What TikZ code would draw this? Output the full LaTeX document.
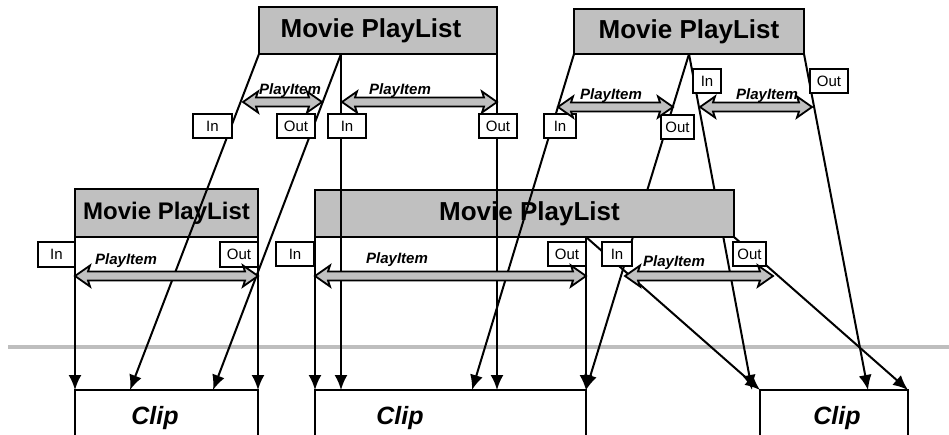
\documentclass[tikz,border=0pt]{standalone}
\usepackage{fontspec}
\setmainfont{Liberation Sans}
\usetikzlibrary{arrows.meta}
\definecolor{boxgray}{RGB}{192,192,192}
\definecolor{rulegray}{RGB}{190,190,190}
\tikzset{
  movie/.style={draw, fill=boxgray, line width=1.8pt, inner sep=0pt, outer sep=0pt,
    font=\fontsize{26}{30}\selectfont\bfseries},
  inout/.style={draw, fill=white, line width=1.4pt, inner sep=0pt, outer sep=0pt,
    minimum width=38pt, minimum height=24pt, font=\fontsize{15}{18}\selectfont},
  clipbox/.style={draw, line width=1.8pt, inner sep=0pt, outer sep=0pt, minimum height=48pt},
  itemtxt/.style={anchor=base, inner sep=0pt, font=\fontsize{15}{18}\selectfont\bfseries\itshape},
  cliptxt/.style={anchor=base, inner sep=0pt, font=\fontsize{25}{30}\selectfont\bfseries\itshape},
  link/.style={line width=2pt, -{Latex[length=15pt,width=13pt]}},
}
\newcommand{\pitem}[3]{%
  \draw [line width=1.8pt, fill=boxgray] (#1,#3) -- ++(15,-10.5) -- ++(-2,6) -- (#2-13,#3-4.5)
    -- ++(-2,-6) -- (#2,#3) -- ++(-15,10.5) -- ++(2,-6) -- (#1+13,#3+4.5) -- ++(2,6) -- cycle;}
\begin{document}
\begin{tikzpicture}[x=1pt,y=-1pt]
\useasboundingbox (0,0) rectangle (949,435);
\clip (0,0) rectangle (949,435);
\draw [rulegray, line width=3.5pt] (8,347) -- (949,347);
% upper play lists
\node [movie, minimum width=238pt, minimum height=47pt] (tlist) at (378,30.5) {Movie PlayList\kern14pt};
\node [movie, minimum width=230pt, minimum height=45pt] (trlist) at (689,31.5) {Movie PlayList};
% clips
\node [clipbox, minimum width=183pt] (clipA) at (166.5,414) {};
\node [clipbox, minimum width=271pt] (clipB) at (450.5,414) {};
\node [clipbox, minimum width=148pt] (clipC) at (834,414) {};
\node [cliptxt] (clipAtxt) at (155,424) {Clip};
\node [cliptxt] (clipBtxt) at (400,424) {Clip};
\node [cliptxt] (clipCtxt) at (837,424) {Clip};
% end points
\coordinate (tlmid) at (341,54);
\coordinate (trmid) at (689,54);
\coordinate (mlmid) at (586,237);
\coordinate (a1) at (130,390);
\coordinate (a2) at (213,390);
\coordinate (b1) at (341,390);
\coordinate (b2) at (472,390);
\coordinate (b3) at (497,390);
\coordinate (c1) at (752,390);
\coordinate (c2) at (868,390);
% these two go under the middle list
\draw [link] (trmid) -- (clipB.north east);
\draw [link] (trmid) -- (c1);
% lower play lists
\node [movie, font=\fontsize{24}{28}\selectfont\bfseries, minimum width=183pt, minimum height=48pt] (llist) at (166.5,213) {Movie PlayList};
\node [movie, minimum width=419pt, minimum height=47pt] (mlist) at (524.5,213.5) {\kern10pt Movie PlayList};
% links
\draw [link] (tlist.south west) -- (a1);
\draw [link] (tlmid) -- (a2);
\draw [link] (tlmid) -- (b1);
\draw [link] (tlist.south east) -- (b3);
\draw [link] (trlist.south west) -- (b2);
\draw [link] (trlist.south east) -- (c2);
\draw [link] (llist.south west) -- (clipA.north west);
\draw [link] (llist.south east) -- (clipA.north east);
\draw [link] (mlist.south west) -- (clipB.north west);
\draw [link] (mlmid) -- (clipB.north east);
\draw [link] (mlmid) -- (clipC.north west);
\draw [link] (mlist.south east) -- (clipC.north east);
% in / out marks
\node [inout, minimum width=39pt] (inA) at (212.5,126) {In};
\node [inout] (outA) at (296,126) {Out};
\node [inout] (inB) at (347,126) {In};
\node [inout] (outB) at (498,126) {Out};
\node [inout, minimum width=32pt] (inC) at (560,126) {In};
\node [inout, minimum width=33pt] (outC) at (677.5,127) {Out};
\node [inout, minimum width=28pt] (inD) at (707,81) {In};
\node [inout] (outD) at (829,81) {Out};
\node [inout, minimum width=37pt, minimum height=25pt] (inE) at (56.5,254.5) {In};
\node [inout, minimum height=25pt] (outE) at (239,254.5) {Out};
\node [inout] (inF) at (295,254) {In};
\node [inout] (outF) at (567,254) {Out};
\node [inout, minimum width=30pt] (inG) at (617,254) {In};
\node [inout, minimum width=33pt] (outG) at (749.5,254) {Out};
% play items
\pitem{243}{322}{102}
\pitem{342}{497}{102}
\pitem{558}{673}{107}
\pitem{700}{812}{107}
\pitem{75}{258}{276}
\pitem{315}{586}{276}
\pitem{625}{773}{276}
\node [itemtxt] (itemA) at (290,95) {PlayItem};
\node [itemtxt] (itemB) at (400,95) {PlayItem};
\node [itemtxt] (itemC) at (611,100) {PlayItem};
\node [itemtxt] (itemD) at (767,100) {PlayItem};
\node [itemtxt] (itemE) at (126,265) {PlayItem};
\node [itemtxt] (itemF) at (397,264) {PlayItem};
\node [itemtxt] (itemG) at (674,267) {PlayItem};
\end{tikzpicture}
\end{document}
